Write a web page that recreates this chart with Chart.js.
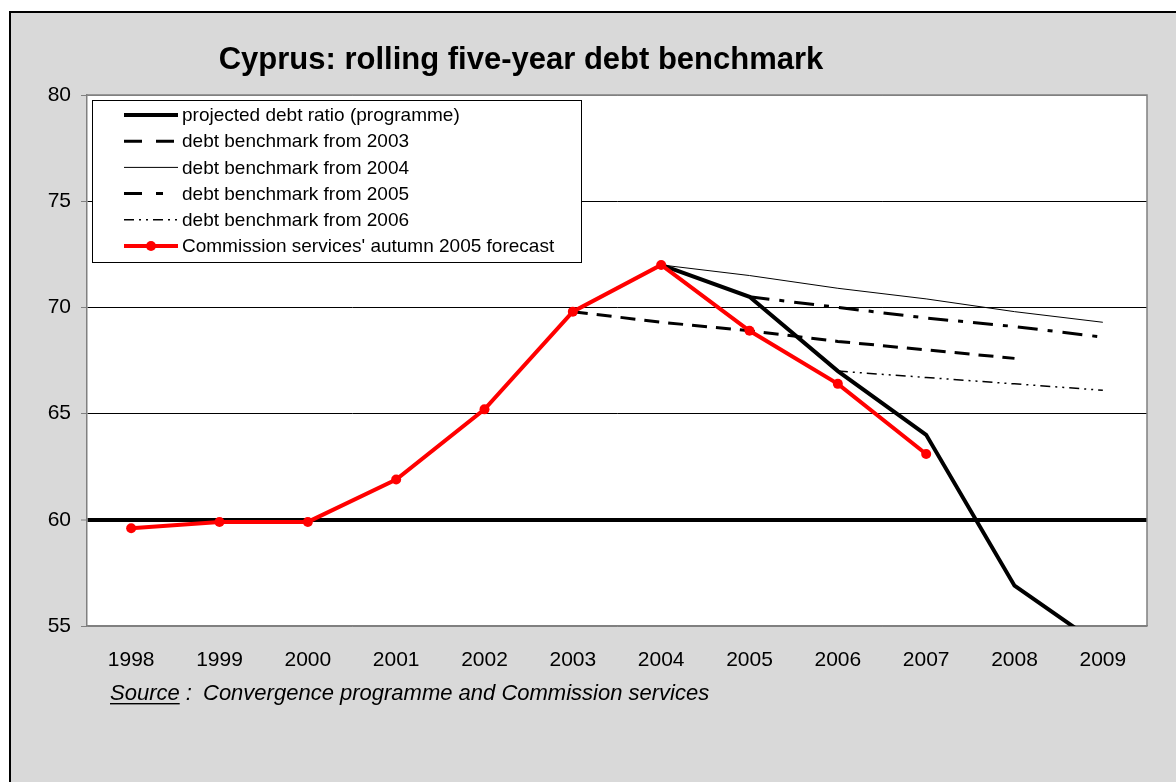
<!DOCTYPE html>
<html>
<head>
<meta charset="utf-8">
<script src="https://cdn.jsdelivr.net/npm/chart.js@4"></script>
<style>
    html, body { margin: 0; padding: 0; background: #ffffff; }
    #wrap { width: 1176px; height: 782px; position: relative; }
</style>
</head>
<body>
<div id="wrap"><canvas id="myChart" width="1176" height="782"></canvas></div>
<script>
const years = ['1998', '1999', '2000', '2001', '2002', '2003', '2004', '2005', '2006', '2007', '2008', '2009'];

// projected debt ratio (programme)
const programme = [null, null, null, null, null, null, 72.0, 70.5, 67.0, 64.0, 56.9, 54.0];
// rolling benchmarks
const bench2003 = [null, null, null, null, null, 69.8, 69.3, 68.9, 68.4, 68.0, 67.6, null];
const bench2004 = [null, null, null, null, null, null, 72.0, 71.5, 70.9, 70.4, 69.8, 69.3];
const bench2005 = [null, null, null, null, null, null, null, 70.5, 70.0, 69.5, 69.1, 68.6];
const bench2006 = [null, null, null, null, null, null, null, null, 67.0, 66.7, 66.4, 66.1];
// Commission services' autumn 2005 forecast
const forecast = [59.6, 59.9, 59.9, 61.9, 65.2, 69.8, 72.0, 68.9, 66.4, 63.1, null, null];

const yTicks = [55, 60, 65, 70, 75, 80];

const titleText = 'Cyprus: rolling five-year debt benchmark';
const fontName = '"Liberation Sans", Arial, sans-serif';

const data = {
    labels: years,
    datasets: [
        {
            label: "Commission services' autumn 2005 forecast",
            data: forecast,
            borderColor: '#ff0000',
            backgroundColor: '#ff0000',
            borderWidth: 4,
            pointRadius: 5,
            pointBorderWidth: 0,
            order: 0
        },
        {
            label: 'projected debt ratio (programme)',
            data: programme,
            borderColor: '#000000',
            borderWidth: 4,
            pointRadius: 0,
            order: 1
        },
        {
            label: 'debt benchmark from 2003',
            data: bench2003,
            borderColor: '#000000',
            borderWidth: 3,
            borderDash: [15, 9],
            legendDash: [18, 14],
            pointRadius: 0,
            order: 2
        },
        {
            label: 'debt benchmark from 2004',
            data: bench2004,
            borderColor: '#000000',
            borderWidth: 1,
            pointRadius: 0,
            order: 3
        },
        {
            label: 'debt benchmark from 2005',
            data: bench2005,
            borderColor: '#000000',
            borderWidth: 3,
            borderDash: [20, 10, 5, 10],
            legendDash: [18, 14, 7, 20],
            pointRadius: 0,
            order: 4
        },
        {
            label: 'debt benchmark from 2006',
            data: bench2006,
            borderColor: '#000000',
            borderWidth: 1.5,
            borderDash: [10, 5, 2, 5, 2, 5],
            pointRadius: 0,
            order: 5
        }
    ]
};

// legend order as in the picture
const legendOrder = [1, 2, 3, 4, 5, 0];

const framePlugin = {
    id: 'frame',
    beforeDraw(chart) {
        const ctx = chart.ctx;
        const a = chart.chartArea;
        ctx.save();
        ctx.fillStyle = '#ffffff';
        ctx.fillRect(0, 0, chart.width, chart.height);
        ctx.fillStyle = '#d9d9d9';
        ctx.fillRect(10, 12, chart.width, chart.height);
        ctx.strokeStyle = '#000000';
        ctx.lineWidth = 2;
        ctx.strokeRect(10, 12, chart.width + 10, chart.height + 10);
        ctx.fillStyle = '#ffffff';
        ctx.fillRect(a.left, a.top, a.right - a.left, a.bottom - a.top);
        ctx.restore();
    },
    afterDraw(chart) {
        const ctx = chart.ctx;
        const a = chart.chartArea;
        ctx.save();
        // plot frame top / right
        ctx.strokeStyle = '#808080';
        ctx.lineWidth = 1.5;
        ctx.beginPath();
        ctx.moveTo(a.left, a.top);
        ctx.lineTo(a.right, a.top);
        ctx.lineTo(a.right, a.bottom);
        ctx.stroke();

        // title
        ctx.fillStyle = '#000000';
        ctx.font = 'bold 31px ' + fontName;
        ctx.textAlign = 'center';
        ctx.textBaseline = 'middle';
        ctx.fillText(titleText, 521, 60);

        // source line
        ctx.font = 'italic 22px ' + fontName;
        ctx.textAlign = 'left';
        ctx.textBaseline = 'alphabetic';
        const sx = 110, sy = 700;
        ctx.fillText('Source', sx, sy);
        const w = ctx.measureText('Source').width;
        ctx.fillRect(sx, sy + 3, w, 1.4);
        ctx.fillText(' :', sx + w, sy);
        ctx.fillText('Convergence programme and Commission services', 203, sy);

        // legend box
        const lx = 92, ly = 100, lw = 489, lh = 162;
        ctx.fillStyle = '#ffffff';
        ctx.fillRect(lx, ly, lw, lh);
        ctx.strokeStyle = '#000000';
        ctx.lineWidth = 1;
        ctx.strokeRect(lx + 0.5, ly + 0.5, lw, lh);
        ctx.font = '19px ' + fontName;
        ctx.textBaseline = 'middle';
        legendOrder.forEach(function (idx, i) {
            const ds = chart.data.datasets[idx];
            const y = ly + 15 + i * 26.2;
            ctx.strokeStyle = ds.borderColor;
            ctx.lineWidth = ds.borderWidth;
            ctx.setLineDash(ds.legendDash || ds.borderDash || []);
            ctx.beginPath();
            ctx.moveTo(124, y);
            ctx.lineTo(178, y);
            ctx.stroke();
            ctx.setLineDash([]);
            if (ds.pointRadius > 0) {
                ctx.fillStyle = ds.backgroundColor;
                ctx.beginPath();
                ctx.arc(151, y, ds.pointRadius, 0, Math.PI * 2);
                ctx.fill();
            }
            ctx.fillStyle = '#000000';
            ctx.fillText(ds.label, 182, y + 1);
        });
        ctx.restore();
    }
};

const options = {
    responsive: false,
    animation: false,
    layout: { padding: { left: 0, right: 29, top: 95, bottom: 0 } },
    plugins: {
        legend: { display: false },
        title: { display: false },
        tooltip: { enabled: false }
    },
    scales: {
        x: {
            offset: true,
            grid: { display: false, drawTicks: false },
            border: { color: '#808080', width: 1.5 },
            ticks: {
                color: '#000000',
                font: { family: fontName, size: 21 },
                padding: 22,
                maxRotation: 0
            },
            afterFit: function (scale) { scale.height = 156; }
        },
        y: {
            min: 55,
            max: 80,
            afterBuildTicks: function (scale) {
                scale.ticks = yTicks.map(function (v) { return { value: v }; });
            },
            grid: {
                color: function (c) {
                    const v = c.tick ? c.tick.value : null;
                    if (v === 55 || v === 80) return '#808080';
                    return '#000000';
                },
                lineWidth: function (c) {
                    const v = c.tick ? c.tick.value : null;
                    if (v === 60) return 4;
                    return 1;
                },
                tickColor: '#808080',
                tickWidth: 1,
                tickLength: 6,
                drawTicks: true
            },
            border: { color: '#808080', width: 1.5 },
            ticks: {
                color: '#000000',
                font: { family: fontName, size: 21 },
                padding: 10
            },
            afterFit: function (scale) { scale.width = 87; }
        }
    }
};

const config = {
    type: 'line',
    data: data,
    options: options,
    plugins: [framePlugin]
};

window.onload = function () {
    new Chart(document.getElementById('myChart'), config);
};
</script>
</body>
</html>
